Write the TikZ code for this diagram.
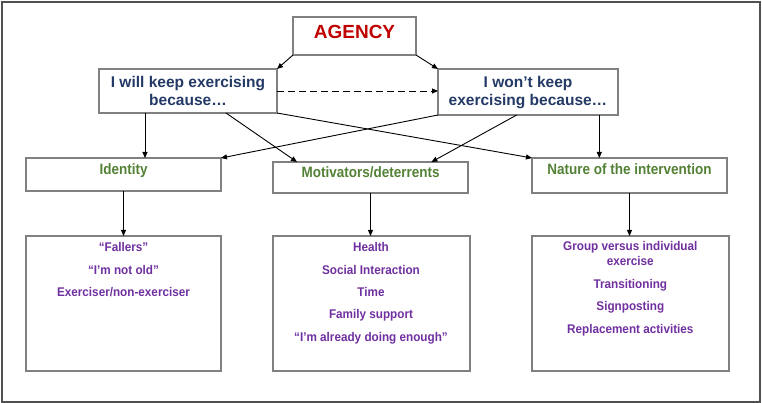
\documentclass[tikz,border=0pt]{standalone}
\usepackage{fontspec}
\setmainfont{Liberation Sans}
\newfontfamily\narrowA[FakeStretch=0.9]{Liberation Sans}
\newfontfamily\narrowB[FakeStretch=0.93]{Liberation Sans}
\usetikzlibrary{arrows.meta,calc}
\definecolor{agred}{RGB}{192,0,0}
\definecolor{agblue}{RGB}{36,58,102}
\definecolor{aggreen}{RGB}{83,129,53}
\definecolor{agpurple}{RGB}{112,48,160}
\definecolor{boxgray}{RGB}{128,128,128}
\definecolor{framegray}{RGB}{80,80,80}
\begin{document}
\begin{tikzpicture}[x=1pt,y=-1pt,
  box/.style={draw=boxgray, line width=1.1pt, fill=white, inner sep=0pt, outer sep=0pt, rectangle},
  arr/.style={draw=black, line width=0.9pt, -{Triangle[length=6pt,width=5pt]}},
  dasharr/.style={arr, dash pattern=on 7pt off 4pt},
  redtxt/.style={anchor=base, text=agred, font=\fontsize{19}{22}\selectfont\bfseries},
  bluetxt/.style={anchor=base, text=agblue, font=\fontsize{15.5}{18}\selectfont\bfseries},
  greentxt/.style={anchor=base, text=aggreen, font=\narrowA\fontsize{15}{18}\selectfont\bfseries},
  purptxt/.style={anchor=base, text=agpurple, font=\narrowB\fontsize{12.6}{15}\selectfont\bfseries}
]
\useasboundingbox (0,0) rectangle (762,403);
\fill[white] (0,0) rectangle (762,403);
\node[draw=framegray, line width=1.5pt, inner sep=0pt, minimum width=758pt, minimum height=400pt] (frame) at (381,202) {};

% boxes
\node[box, minimum width=123pt, minimum height=38pt] (agency) at (354.5,36) {};
\node[box, minimum width=178pt, minimum height=44pt] (will) at (188,91) {};
\node[box, minimum width=180pt, minimum height=46pt] (wont) at (528,92) {};
\node[box, minimum width=195pt, minimum height=33pt] (ident) at (123.5,174.5) {};
\node[box, minimum width=195pt, minimum height=31pt] (motiv) at (370.5,177.5) {};
\node[box, minimum width=195pt, minimum height=35pt] (nature) at (629.5,175.5) {};
\node[box, minimum width=195pt, minimum height=135pt] (lbox) at (123.5,303.5) {};
\node[box, minimum width=197pt, minimum height=135pt] (mbox) at (371.5,303.5) {};
\node[box, minimum width=197pt, minimum height=135pt] (rbox) at (630.5,303.5) {};

% texts
\node[redtxt] (agencyT) at (354.5,38.3) {AGENCY};
\node[bluetxt] (willT1) at (188,87.3) {I will keep exercising};
\node[bluetxt] (willT2) at (188,106) {because…};
\node[bluetxt] (wontT1) at (528,87.3) {I won’t keep};
\node[bluetxt] (wontT2) at (528,106) {exercising because…};
\node[greentxt] (identT) at (123.5,175) {Identity};
\node[greentxt] (motivT) at (370.7,177.3) {Motivators/deterrents};
\node[greentxt] (natureT) at (629.5,175) {Nature of the intervention};

\node[purptxt] (l1) at (123.5,251.7) {“Fallers”};
\node[purptxt] (l2) at (123.5,274.3) {“I’m not old”};
\node[purptxt] (l3) at (123.5,296.7) {Exerciser/non-exerciser};

\node[purptxt] (m1) at (371,251.7) {Health};
\node[purptxt] (m2) at (371,274.1) {Social Interaction};
\node[purptxt] (m3) at (371,296.5) {Time};
\node[purptxt] (m4) at (371,318.9) {Family support};
\node[purptxt] (m5) at (371,341.3) {“I’m already doing enough”};

\node[purptxt] (r1) at (630.3,251) {Group versus individual};
\node[purptxt] (r2) at (630.3,265.7) {exercise};
\node[purptxt] (r3) at (630.3,288.3) {Transitioning};
\node[purptxt] (r4) at (630.3,310.7) {Signposting};
\node[purptxt] (r5) at (630.3,333.3) {Replacement activities};

% connectors
\draw[arr] (agency.south west) -- (will.north east);
\draw[arr] (agency.south east) -- (wont.north west);
\draw[dasharr] (will.east) -- (wont.west |- will.east);

\draw[arr] ([xshift=46pt]will.south west) -- ([xshift=46pt]will.south west |- ident.north);
\draw[arr] ([xshift=161.3pt]wont.south west) -- ([xshift=161.3pt]wont.south west |- nature.north);
\draw[arr] ([xshift=127pt]will.south west) -- ([xshift=24pt]motiv.north west);
\draw[arr] (will.south east) -- (nature.north west);
\draw[arr] (wont.south west) -- (ident.north east);
\draw[arr] ([xshift=78.7pt]wont.south west) -- ([xshift=158.4pt]motiv.north west);

\draw[arr] (ident.south) -- (ident.south |- lbox.north);
\draw[arr] (motiv.south) -- (motiv.south |- mbox.north);
\draw[arr] (nature.south) -- (nature.south |- rbox.north);
\end{tikzpicture}
\end{document}
